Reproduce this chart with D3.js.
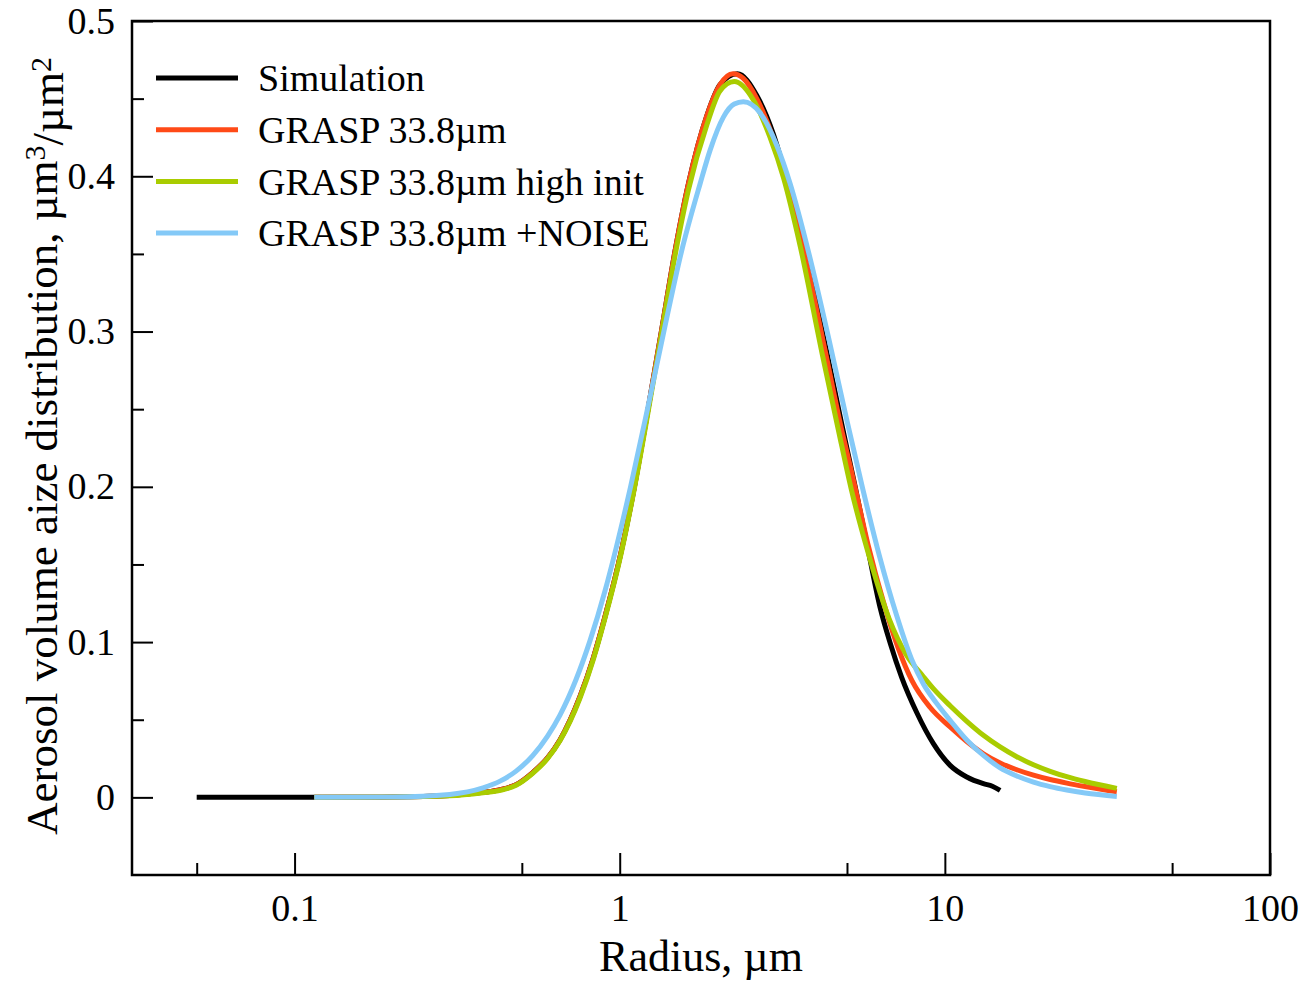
<!DOCTYPE html>
<html>
<head>
<meta charset="utf-8">
<script src="https://cdnjs.cloudflare.com/ajax/libs/d3/7.8.5/d3.min.js"></script>
<style>
  body { margin: 0; background: #fff; }
  text { font-family: "Liberation Serif", "Times New Roman", serif; fill: #000; }
</style>
</head>
<body>
<div id="chart"></div>
<script>
// Radius (um) and volume size distribution values
var simR = [0.05, 0.115, 0.2, 0.3, 0.38, 0.43, 0.48, 0.54, 0.6, 0.655, 0.755, 0.83, 0.9, 1.01, 1.105, 1.22, 1.343, 1.48, 1.626, 1.853, 2.035, 2.3, 2.64, 2.97, 3.27, 3.72, 4.3, 4.8, 5.3, 5.8, 6.32, 6.8, 7.36, 8.2, 9.22, 10.38, 11.68, 13.14, 14.0, 14.79];
var simV = [0, 0, 0.0002, 0.0012, 0.0032, 0.005, 0.0082, 0.016, 0.0255, 0.037, 0.065, 0.09, 0.116, 0.158, 0.198, 0.249, 0.30, 0.352, 0.395, 0.439, 0.459, 0.466, 0.452, 0.427, 0.397, 0.35, 0.29, 0.242, 0.2, 0.16, 0.1224, 0.099, 0.0775, 0.0545, 0.0346, 0.0206, 0.0131, 0.0088, 0.0072, 0.0045];

var redR = [0.115, 0.2, 0.3, 0.38, 0.43, 0.48, 0.54, 0.6, 0.655, 0.755, 0.83, 0.9, 1.01, 1.105, 1.22, 1.343, 1.48, 1.626, 1.853, 2.035, 2.23, 2.4, 2.64, 2.97, 3.27, 3.72, 4.3, 4.8, 5.2, 5.8, 6.48, 7.2, 7.93, 9.0, 10.38, 11.68, 13.14, 14.79, 16.64, 18.73, 21.08, 23.72, 27, 33.8];
var redV = [0, 0.0002, 0.0012, 0.0032, 0.005, 0.0082, 0.016, 0.0255, 0.037, 0.065, 0.09, 0.116, 0.158, 0.198, 0.249, 0.30, 0.352, 0.395, 0.439, 0.459, 0.466, 0.463, 0.45, 0.424, 0.394, 0.348, 0.286, 0.238, 0.207, 0.163, 0.1255, 0.0957, 0.075, 0.058, 0.0453, 0.036, 0.0281, 0.0222, 0.0178, 0.0143, 0.0115, 0.0092, 0.007, 0.0036];

var greenR = [0.115, 0.2, 0.3, 0.38, 0.43, 0.48, 0.54, 0.6, 0.655, 0.755, 0.83, 0.9, 1.01, 1.105, 1.22, 1.343, 1.48, 1.626, 1.853, 2.035, 2.25, 2.58, 2.9, 3.19, 3.59, 4.2, 4.7, 5.16, 5.8, 6.74, 7.6, 8.57, 9.22, 10.38, 11.68, 13.14, 14.79, 16.64, 18.73, 21.08, 23.72, 27, 33.8];
var greenV = [0, 0.0002, 0.001, 0.003, 0.0045, 0.0078, 0.0155, 0.025, 0.0365, 0.064, 0.089, 0.115, 0.157, 0.197, 0.247, 0.298, 0.349, 0.391, 0.433, 0.455, 0.461, 0.449, 0.425, 0.399, 0.355, 0.285, 0.237, 0.198, 0.158, 0.115, 0.092, 0.078, 0.070, 0.059, 0.049, 0.040, 0.0325, 0.0262, 0.021, 0.0168, 0.0133, 0.0102, 0.0058];

var blueR = [0.115, 0.2, 0.3, 0.38, 0.43, 0.48, 0.54, 0.6, 0.655, 0.733, 0.81, 0.9, 0.975, 1.08, 1.22, 1.367, 1.552, 1.767, 1.896, 2.084, 2.25, 2.4, 2.7, 3.04, 3.34, 3.8, 4.4, 5.0, 5.6, 6.3, 7.1, 7.9, 8.59, 9.4, 10.38, 11.68, 13.14, 14.79, 16.64, 18.73, 21.08, 23.72, 27, 33.8];
var blueV = [0, 0.0002, 0.0019, 0.0061, 0.0106, 0.0169, 0.0269, 0.0395, 0.053, 0.0756, 0.1008, 0.1326, 0.1606, 0.20, 0.251, 0.30, 0.3523, 0.3952, 0.4167, 0.4381, 0.4465, 0.448, 0.441, 0.42, 0.3955, 0.352, 0.295, 0.2425, 0.198, 0.155, 0.1174, 0.089, 0.073, 0.061, 0.0496, 0.037, 0.027, 0.019, 0.0138, 0.0098, 0.0069, 0.0047, 0.0028, 0.0006];

var seriesNames = ["Simulation", "GRASP 33.8\u00b5m", "GRASP 33.8\u00b5m high init", "GRASP 33.8\u00b5m +NOISE"];
var seriesColors = ["#000000", "#ff4a17", "#a9cc00", "#84c9f7"];

var xMajorTicks = [0.1, 1, 10, 100];
var xMajorLabels = ["0.1", "1", "10", "100"];
var xMinorTicks = [0.05, 0.5, 5, 50];
var yMajorTicks = [0, 0.1, 0.2, 0.3, 0.4, 0.5];
var yMajorLabels = ["0", "0.1", "0.2", "0.3", "0.4", "0.5"];
var yMinorTicks = [0.05, 0.15, 0.25, 0.35, 0.45];

// SVG area
var svgWidth = 1302;
var svgHeight = 981;
var margin = { top: 21, right: 32, bottom: 106, left: 132 };
var width = svgWidth - margin.left - margin.right;
var height = svgHeight - margin.top - margin.bottom;

var svg = d3.select("#chart")
  .append("svg")
  .attr("width", svgWidth)
  .attr("height", svgHeight)
  .style("display", "block")
  .style("background", "#fff");

var chartGroup = svg.append("g")
  .attr("transform", `translate(${margin.left}, ${margin.top})`);

// scales
var xLogScale = d3.scaleLog().domain([Math.pow(10, -1.5), 100]).range([0, width]);
var yLinearScale = d3.scaleLinear().domain([-0.05, 0.5]).range([height, 0]);

// axes (ticks point inward)
function styleAxis(g, fontSize) {
  g.attr("font-family", null).attr("font-size", null);
  g.select(".domain").remove();
  g.selectAll(".tick line").attr("stroke", "#000").attr("stroke-width", 2);
  g.selectAll(".tick text").style("font-size", fontSize + "px");
}

chartGroup.append("g")
  .attr("transform", `translate(0, ${height})`)
  .call(d3.axisBottom(xLogScale).tickValues(xMajorTicks).tickSize(-22).tickPadding(19)
    .tickFormat((d, i) => xMajorLabels[i]))
  .call(g => styleAxis(g, 38));

chartGroup.append("g")
  .attr("transform", `translate(0, ${height})`)
  .call(d3.axisBottom(xLogScale).tickValues(xMinorTicks).tickSize(-12).tickFormat(""))
  .call(g => styleAxis(g, 38));

chartGroup.append("g")
  .call(d3.axisLeft(yLinearScale).tickValues(yMajorTicks).tickSize(-21).tickPadding(17)
    .tickFormat((d, i) => yMajorLabels[i]))
  .call(g => styleAxis(g, 38));

chartGroup.append("g")
  .call(d3.axisLeft(yLinearScale).tickValues(yMinorTicks).tickSize(-12).tickFormat(""))
  .call(g => styleAxis(g, 38));

// frame
chartGroup.append("rect")
  .attr("x", 0).attr("y", 0)
  .attr("width", width).attr("height", height)
  .attr("fill", "none")
  .attr("stroke", "#000")
  .attr("stroke-width", 2.5);

// curves
var allR = [simR, redR, greenR, blueR];
var allV = [simV, redV, greenV, blueV];

var line = d3.line()
  .x(d => xLogScale(d[0]))
  .y(d => yLinearScale(d[1]))
  .curve(d3.curveMonotoneX);

allR.forEach(function(rs, i) {
  var pts = rs.map((r, j) => [r, allV[i][j]]);
  chartGroup.append("path")
    .datum(pts)
    .attr("d", line)
    .attr("fill", "none")
    .attr("stroke", seriesColors[i])
    .attr("stroke-width", 5)
    .attr("stroke-linejoin", "round");
});

// legend
var legend = svg.append("g");
seriesNames.forEach(function(name, i) {
  var y = 78 + i * 51.7;
  legend.append("line")
    .attr("x1", 156).attr("x2", 238)
    .attr("y1", y).attr("y2", y)
    .attr("stroke", seriesColors[i])
    .attr("stroke-width", 5);
  legend.append("text")
    .attr("x", 258).attr("y", y)
    .attr("dy", "0.35em")
    .style("font-size", "38px")
    .text(name);
});

// axis titles
svg.append("text")
  .attr("x", margin.left + width / 2)
  .attr("y", 971)
  .attr("text-anchor", "middle")
  .style("font-size", "44px")
  .text("Radius, \u00b5m");

var yTitle = svg.append("text")
  .attr("transform", `translate(57, ${margin.top + height / 2 - 2}) rotate(-90)`)
  .attr("text-anchor", "middle")
  .style("font-size", "45px");
yTitle.append("tspan").text("Aerosol volume aize distribution, \u00b5m");
yTitle.append("tspan").attr("dy", "-0.4em").style("font-size", "30px").text("3");
yTitle.append("tspan").attr("dy", "0.4em").text("/\u00b5m");
yTitle.append("tspan").attr("dy", "-0.4em").style("font-size", "30px").text("2");
</script>
</body>
</html>
